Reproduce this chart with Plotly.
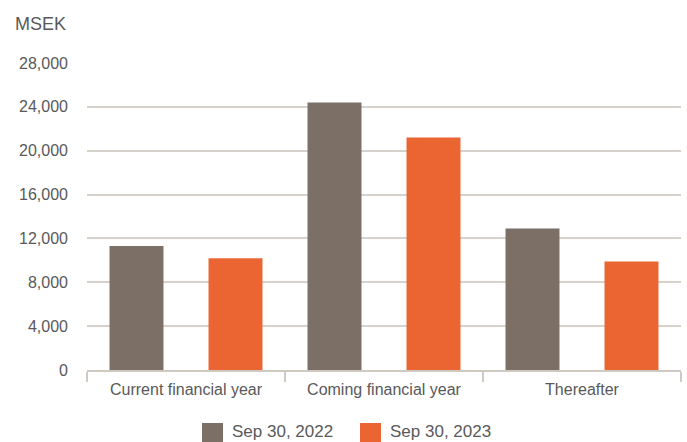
import plotly.graph_objects as go

# Maturity profile, MSEK
categories = ["Current financial year", "Coming financial year", "Thereafter"]
series_names = ["Sep 30, 2022", "Sep 30, 2023"]
values_2022 = [11300, 24400, 12900]
values_2023 = [10200, 21200, 9900]
y_ticks = [0, 4000, 8000, 12000, 16000, 20000, 24000, 28000]

colors = ["#7b6f66", "#ea6532"]
text_color = "#595959"
grid_color = "#d6d1cb"
font_family = "Liberation Sans, Arial, sans-serif"

W, H = 687, 442
ML, MR, MT, MB = 87, 6, 63, 72
PW, PH = W - ML - MR, H - MT - MB


def px_x(x):
    return (x - ML) / PW


def px_y(y):
    return (H - MB - y) / PH


fig = go.Figure()
for name, vals, col in zip(series_names, [values_2022, values_2023], colors):
    fig.add_trace(go.Bar(x=categories, y=vals, name=name, marker_color=col,
                         marker_line_width=0, showlegend=False))

fig.update_layout(
    width=W, height=H,
    margin=dict(l=ML, r=MR, t=MT, b=MB),
    paper_bgcolor="white", plot_bgcolor="white",
    barmode="group", bargap=0.0, bargroupgap=0.455,
    font=dict(family=font_family, size=16, color=text_color),
)
fig.update_xaxes(
    showline=True, linecolor="#cfc9c2", linewidth=1.5,
    ticks="outside", tickson="boundaries", ticklen=10, tickcolor="#cfc9c2",
    tickwidth=1.5, showgrid=False, ticklabelstandoff=4,
    tickfont=dict(size=16, color=text_color),
)
fig.update_yaxes(
    range=[0, 28000], tickvals=y_ticks, tickformat=",d",
    showgrid=True, gridcolor=grid_color, gridwidth=1.5,
    zeroline=False, showline=False, ticks="", ticklabelstandoff=18,
    tickfont=dict(size=16, color=text_color),
)

# unit label
fig.add_annotation(text="MSEK", xref="paper", yref="paper",
                   x=px_x(13), y=px_y(24), xanchor="left", yanchor="middle",
                   showarrow=False, font=dict(size=18, color=text_color))

# legend drawn as swatches + labels
legend_x = [202, 360]
for lx, name, col in zip(legend_x, series_names, colors):
    fig.add_shape(type="rect", xref="paper", yref="paper",
                  x0=px_x(lx), x1=px_x(lx + 21), y0=px_y(423), y1=px_y(444),
                  fillcolor=col, line_width=0)
    fig.add_annotation(text=name, xref="paper", yref="paper",
                       x=px_x(lx + 28), y=px_y(431), xanchor="left", yanchor="middle",
                       showarrow=False, font=dict(size=17, color=text_color))

fig.write_html("out.html")
